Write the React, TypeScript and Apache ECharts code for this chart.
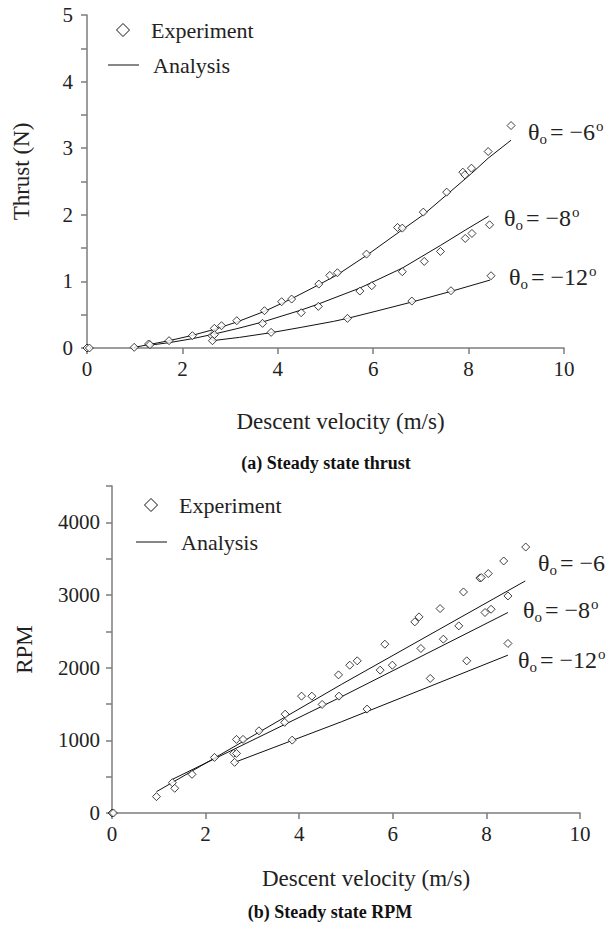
import React, { useEffect, useRef } from "react";
import * as echarts from "echarts";

// ---------- Data: (a) Steady state thrust ----------
const thrustExpM6: [number, number][] = [
  [0, 0], [0.05, 0], [0.99, 0.01], [1.29, 0.06], [1.72, 0.11], [2.21, 0.185],
  [2.67, 0.295], [2.82, 0.335], [3.14, 0.41], [3.72, 0.56], [4.08, 0.695],
  [4.29, 0.735], [4.86, 0.96], [5.09, 1.09], [5.25, 1.13], [5.86, 1.41],
  [6.51, 1.81], [6.61, 1.8], [7.05, 2.04], [7.54, 2.34], [7.88, 2.64],
  [7.92, 2.6], [8.06, 2.7], [8.41, 2.95], [8.89, 3.34],
];
const thrustExpM8: [number, number][] = [
  [1.32, 0.05], [2.62, 0.185], [2.67, 0.2], [3.68, 0.37], [4.49, 0.53],
  [4.85, 0.625], [5.72, 0.855], [5.97, 0.935], [6.61, 1.145], [7.07, 1.3],
  [7.41, 1.45], [7.93, 1.645], [8.07, 1.72], [8.44, 1.85],
];
const thrustExpM12: [number, number][] = [
  [2.63, 0.11], [3.86, 0.235], [5.46, 0.445], [6.81, 0.705], [7.63, 0.86], [8.47, 1.085],
];
const thrustAnaM6: [number, number][] = [
  [0.99, 0.01], [1.29, 0.05], [1.72, 0.11], [2.21, 0.19], [2.67, 0.28], [3.14, 0.39],
  [3.72, 0.55], [4.29, 0.74], [4.86, 0.95], [5.25, 1.1], [5.86, 1.39], [6.56, 1.75],
  [7.05, 2.0], [7.54, 2.3], [8.06, 2.62], [8.41, 2.85], [8.89, 3.12],
];
const thrustAnaM8: [number, number][] = [
  [1.29, 0.04], [1.72, 0.08], [2.21, 0.14], [2.67, 0.21], [3.14, 0.29], [3.68, 0.39],
  [4.49, 0.57], [4.85, 0.66], [5.72, 0.9], [6.61, 1.2], [7.41, 1.54], [7.93, 1.77], [8.42, 1.98],
];
const thrustAnaM12: [number, number][] = [
  [2.63, 0.11], [3.2, 0.16], [3.86, 0.23], [4.49, 0.31], [5.17, 0.4], [5.46, 0.445],
  [6.1, 0.56], [6.81, 0.69], [7.63, 0.85], [8.45, 1.02],
];

// ---------- Data: (b) Steady state RPM ----------
const rpmExpM6: [number, number][] = [
  [0, 0], [0.03, 0], [0.95, 225], [1.29, 417], [1.71, 532], [2.19, 765], [2.66, 1013],
  [2.8, 1013], [3.14, 1131], [3.7, 1360], [4.05, 1608], [4.27, 1608], [4.84, 1901],
  [5.08, 2034], [5.24, 2094], [5.83, 2323], [6.47, 2630], [6.56, 2699], [7.01, 2813],
  [7.51, 3042], [7.86, 3234], [7.89, 3240], [8.04, 3295], [8.37, 3468], [8.84, 3660],
];
const rpmExpM8: [number, number][] = [
  [1.34, 340], [2.6, 820], [2.66, 820], [3.69, 1247], [4.49, 1494], [4.85, 1608],
  [5.73, 1966], [5.99, 2034], [6.6, 2264], [7.08, 2392], [7.41, 2575], [7.97, 2759],
  [8.1, 2804], [8.46, 2987],
];
const rpmExpM12: [number, number][] = [
  [2.62, 697], [3.85, 1003], [5.45, 1430], [6.8, 1852], [7.58, 2094], [8.46, 2333],
];
const rpmAnaM6: [number, number][] = [[0.95, 293], [4.9, 1769], [8.83, 3193]];
const rpmAnaM8: [number, number][] = [[1.29, 463], [4.9, 1599], [8.46, 2759]];
const rpmAnaM12: [number, number][] = [[2.62, 697], [4.9, 1255], [8.46, 2172]];

const xTicks = [0, 2, 4, 6, 8, 10];
const thrustLabels = [0, 1, 2, 3, 4, 5];
const rpmLabels = [0, 1000, 2000, 3000, 4000];
const curveLabels = ["−6°", "−8°", "−12°"];
const curveLabelsRpm = ["−6", "−8°", "−12°"];
const legendNames = ["Experiment", "Analysis"];

const FONT = "Liberation Serif";
const AXIS_COLOR = "#7d7d7d";
const TEXT_COLOR = "#222";

export default function App() {
  const ref = useRef<HTMLDivElement>(null);

  useEffect(() => {
    if (!ref.current) return;
    const chart = echarts.init(ref.current, undefined, { renderer: "svg" });

    const axisCommon = {
      axisLine: { show: true, lineStyle: { color: AXIS_COLOR, width: 1.5 } },
      axisTick: { show: true, inside: false, length: 6, lineStyle: { color: AXIS_COLOR, width: 1.5 } },
      splitLine: { show: false },
    };

    const xAxisFor = (gridIndex: number, nameGap: number, pad: number) => ({
      type: "value",
      gridIndex,
      min: xTicks[0],
      max: xTicks[xTicks.length - 1],
      interval: 2,
      ...axisCommon,
      axisLabel: { color: TEXT_COLOR, fontFamily: FONT, fontSize: 21, margin: 10 },
      name: "Descent velocity (m/s)",
      nameLocation: "middle",
      nameGap,
      nameTextStyle: { color: TEXT_COLOR, fontFamily: FONT, fontSize: 23, padding: [0, 0, 0, pad] },
    });

    const expSeries = (data: [number, number][], idx: number) => ({
      type: "scatter",
      name: "Experiment",
      xAxisIndex: idx,
      yAxisIndex: idx,
      data,
      symbol: "diamond",
      symbolSize: 8,
      itemStyle: { color: "#fff", borderColor: "#111", borderWidth: 1 },
      z: 3,
    });
    const anaSeries = (data: [number, number][], idx: number) => ({
      type: "line",
      name: "Analysis",
      xAxisIndex: idx,
      yAxisIndex: idx,
      data,
      symbol: "none",
      lineStyle: { color: "#111", width: 1 },
      itemStyle: { color: "#111" },
      z: 2,
    });

    const thetaLabel = (x: number, y: number, val: string, deg: boolean) => ({
      type: "text",
      x,
      y,
      style: {
        text: deg ? `{t|θ}{s|o}{t|= ${val.replace("°", "")}}{p|o}` : `{t|θ}{s|o}{t|= ${val}}`,
        verticalAlign: "middle",
        rich: {
          t: { fontFamily: FONT, fontSize: 24, lineHeight: 28, fill: TEXT_COLOR },
          s: { fontFamily: FONT, fontSize: 15, lineHeight: 14, verticalAlign: "bottom", fill: TEXT_COLOR, padding: [0, 3, 0, 0] },
          p: { fontFamily: FONT, fontSize: 15, lineHeight: 14, verticalAlign: "top", fill: TEXT_COLOR, padding: [0, 0, 0, 1] },
        },
      },
    });

    const legendGraphic = (cx: number, y1: number, y2: number, tx: number) => [
      {
        type: "polygon",
        shape: { points: [[cx, y1 - 6.5], [cx + 6.5, y1], [cx, y1 + 6.5], [cx - 6.5, y1]] },
        style: { fill: "#fff", stroke: "#111", lineWidth: 1 },
      },
      {
        type: "text",
        x: tx,
        y: y1,
        style: { text: legendNames[0], verticalAlign: "middle", fontFamily: FONT, fontSize: 22, fill: TEXT_COLOR },
      },
      {
        type: "line",
        shape: { x1: cx - 15, y1: y2, x2: cx + 16, y2: y2 },
        style: { stroke: "#111", lineWidth: 1 },
      },
      {
        type: "text",
        x: tx + 2,
        y: y2,
        style: { text: legendNames[1], verticalAlign: "middle", fontFamily: FONT, fontSize: 22, fill: TEXT_COLOR },
      },
    ];

    chart.setOption({
      animation: false,
      backgroundColor: "#fff",
      textStyle: { fontFamily: FONT },
      grid: [
        { left: 87, right: 46, top: 15, bottom: 590 },
        { left: 112, right: 30, top: 486, bottom: 125 },
      ],
      xAxis: [xAxisFor(0, 62, 30), xAxisFor(1, 54, 40)],
      yAxis: [
        {
          type: "value",
          gridIndex: 0,
          min: 0,
          max: thrustLabels[thrustLabels.length - 1],
          interval: 0.5,
          ...axisCommon,
          axisLabel: {
            color: TEXT_COLOR,
            fontFamily: FONT,
            fontSize: 21,
            margin: 14,
            formatter: (v: number) => (thrustLabels.includes(v) ? String(v) : ""),
          },
          name: "Thrust (N)",
          nameLocation: "middle",
          nameGap: 54,
          nameTextStyle: { color: TEXT_COLOR, fontFamily: FONT, fontSize: 23, padding: [0, 0, 0, 20] },
        },
        {
          type: "value",
          gridIndex: 1,
          min: 0,
          max: 4500,
          interval: 500,
          ...axisCommon,
          axisLabel: {
            color: TEXT_COLOR,
            fontFamily: FONT,
            fontSize: 21,
            margin: 12,
            formatter: (v: number) => (rpmLabels.includes(v) ? String(v) : ""),
          },
          name: "RPM",
          nameLocation: "middle",
          nameGap: 76,
          nameTextStyle: { color: TEXT_COLOR, fontFamily: FONT, fontSize: 23 },
        },
      ],
      series: [
        anaSeries(thrustAnaM6, 0),
        anaSeries(thrustAnaM8, 0),
        anaSeries(thrustAnaM12, 0),
        expSeries(thrustExpM6, 0),
        expSeries(thrustExpM8, 0),
        expSeries(thrustExpM12, 0),
        anaSeries(rpmAnaM6, 1),
        anaSeries(rpmAnaM8, 1),
        anaSeries(rpmAnaM12, 1),
        expSeries(rpmExpM6, 1),
        expSeries(rpmExpM8, 1),
        expSeries(rpmExpM12, 1),
      ],
      graphic: [
        ...legendGraphic(123, 30, 65, 151),
        ...legendGraphic(151, 505, 542, 179),
        thetaLabel(528, 132, curveLabels[0], true),
        thetaLabel(504, 218, curveLabels[1], true),
        thetaLabel(509, 277, curveLabels[2], true),
        thetaLabel(538, 563, curveLabelsRpm[0], false),
        thetaLabel(523, 610, curveLabelsRpm[1], true),
        thetaLabel(518, 660, curveLabelsRpm[2], true),
        {
          type: "text",
          x: 326,
          y: 463,
          style: {
            text: "(a) Steady state thrust",
            align: "center",
            verticalAlign: "middle",
            fontFamily: FONT,
            fontWeight: "bold",
            fontSize: 18,
            fill: "#111",
          },
        },
        {
          type: "text",
          x: 330,
          y: 912,
          style: {
            text: "(b) Steady state RPM",
            align: "center",
            verticalAlign: "middle",
            fontFamily: FONT,
            fontWeight: "bold",
            fontSize: 18,
            fill: "#111",
          },
        },
      ],
    });

    return () => chart.dispose();
  }, []);

  return <div ref={ref} style={{ width: 610, height: 938, position: "absolute", left: 0, top: 0 }} />;
}
